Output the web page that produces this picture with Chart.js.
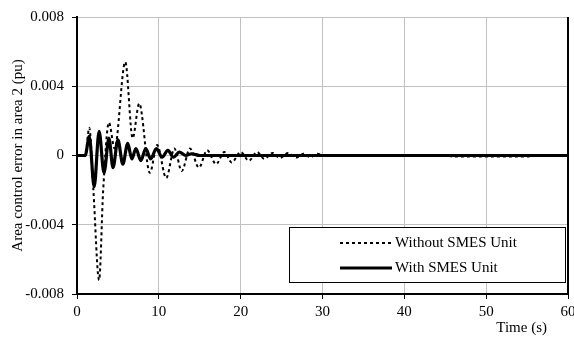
<!DOCTYPE html>
<html>
<head>
<meta charset="utf-8">
<script src="https://cdn.jsdelivr.net/npm/chart.js@4"></script>
<style>
html,body{margin:0;padding:0;background:#fff;}
#wrap{width:574px;height:337px;position:relative;}
</style>
</head>
<body>
<div id="wrap"><canvas id="c" width="574" height="337"></canvas></div>
<script>
// Time (s) and ACE (pu)
const tWithout = [0, 1.0, 1.5, 2.0, 2.7, 3.2, 3.9, 4.6, 5.9, 6.8, 7.6, 8.9, 9.8, 10.9, 11.9, 12.8, 13.8, 14.9, 15.9, 17.0, 18.0, 18.9, 20.0, 21.0, 22.0, 22.9, 23.9, 24.8, 25.8, 26.8, 27.7, 28.5, 29.4, 30.2, 45, 46, 55, 56, 60];
const vWithout = [0, 0, 0.0016, -0.002, -0.0072, -0.002, 0.0019, 0.0004, 0.0054, 0.001, 0.003, -0.001, 0.0006, -0.0013, 0.0004, -0.0009, 0.0004, -0.0007, 0.0003, -0.0005, 0.0002, -0.0004, 0.0002, -0.0003, 0.0002, -0.0002, 0.00015, -0.00015, 0.00015, -0.00012, 0.0001, -0.0001, 0.0001, 0, 0, -0.00006, -0.00006, 0, 0];
const tWith = [0, 1.0, 1.5, 2.1, 2.7, 3.3, 3.9, 4.4, 5.0, 5.6, 6.2, 6.7, 7.2, 7.8, 8.4, 9.0, 9.7, 10.4, 11.1, 11.8, 12.5, 13.3, 14.0, 15.0, 60];
const vWith = [0, 0, 0.0011, -0.0018, 0.0014, -0.001, 0.001, -0.0007, 0.0009, -0.0005, 0.0007, -0.0002, 0.0004, -0.0003, 0.0004, -0.0002, 0.0004, -0.0001, 0.0003, -0.0001, 0.0002, 0, 0.0001, 0, 0];
const seriesNames = ["Without SMES Unit", "With SMES Unit"];
const xTicks = [0, 10, 20, 30, 40, 50, 60];
const yTicks = [-0.008, -0.004, 0, 0.004, 0.008];
const yTickLabels = ["-0.008", "-0.004", "0", "0.004", "0.008"];
const xTitle = "Time (s)";
const yTitle = "Area control error in area 2 (pu)";

const FONT = "Liberation Serif";
const pts = (ts, vs) => ts.map((t, i) => ({x: t, y: vs[i]}));

const decor = {
  id: 'decor',
  afterDraw(chart) {
    const ctx = chart.ctx, a = chart.chartArea;
    ctx.save();
    // right border
    ctx.strokeStyle = '#000'; ctx.lineWidth = 2; ctx.setLineDash([]);
    ctx.beginPath(); ctx.moveTo(a.right, a.top); ctx.lineTo(a.right, a.bottom + 1); ctx.stroke();
    // legend box
    const bx = a.right - 279, by = a.bottom - 67, bw = 276, bh = 55;
    ctx.fillStyle = '#fff'; ctx.fillRect(bx, by, bw, bh);
    ctx.strokeStyle = '#000'; ctx.lineWidth = 1;
    ctx.strokeRect(bx + 0.5, by + 0.5, bw, bh);
    ctx.font = '15px "' + FONT + '"';
    ctx.textBaseline = 'middle'; ctx.textAlign = 'left'; ctx.fillStyle = '#000';
    const ds = chart.data.datasets;
    const rows = [ds[0], ds[1]];
    rows.forEach((d, i) => {
      const y = by + 16 + i * 25;
      ctx.strokeStyle = '#000';
      ctx.lineWidth = d.borderWidth;
      ctx.setLineDash(d.borderDash || []);
      ctx.beginPath(); ctx.moveTo(bx + 51, y); ctx.lineTo(bx + 103, y); ctx.stroke();
      ctx.setLineDash([]);
      ctx.fillText(d.label, bx + 106, y);
    });
    // x title
    ctx.textAlign = 'right';
    ctx.fillText(xTitle, a.right - 21, a.bottom + 34);
    ctx.restore();
  }
};

new Chart(document.getElementById('c'), {
  type: 'line',
  data: {
    datasets: [
      {label: seriesNames[0], data: pts(tWithout, vWithout), borderColor: '#000', borderWidth: 2, borderDash: [3, 3], pointRadius: 0, cubicInterpolationMode: 'monotone', fill: false, order: 1},
      {label: seriesNames[1], data: pts(tWith, vWith), borderColor: '#000', borderWidth: 3.2, pointRadius: 0, cubicInterpolationMode: 'monotone', fill: false, order: 0}
    ]
  },
  options: {
    responsive: false,
    animation: false,
    layout: {padding: {top: 16, right: 6, left: 0, bottom: 0}},
    plugins: {legend: {display: false}, tooltip: {enabled: false}},
    scales: {
      x: {
        type: 'linear', min: 0, max: 60,
        afterBuildTicks: s => { s.ticks = xTicks.map(v => ({value: v})); },
        afterFit: s => { s.height = 43; s.paddingLeft = 0; s.paddingRight = 0; },
        ticks: {color: '#000', font: {family: FONT, size: 15}, padding: 4, maxRotation: 0, callback: v => String(v)},
        grid: {color: '#c0c0c0', lineWidth: 1, tickColor: '#000', tickLength: 5},
        border: {color: '#000', width: 2}
      },
      y: {
        min: -0.008, max: 0.008,
        afterBuildTicks: s => { s.ticks = yTicks.map(v => ({value: v})); },
        afterFit: s => { s.width = 77; },
        ticks: {color: '#000', font: {family: FONT, size: 15}, padding: 8,
          callback: v => { const i = yTicks.findIndex(t => Math.abs(t - v) < 1e-9); return i >= 0 ? yTickLabels[i] : ''; }},
        grid: {color: '#c0c0c0', lineWidth: 1, tickColor: '#000', tickLength: 5},
        border: {color: '#000', width: 2},
        title: {display: true, text: yTitle, color: '#000', font: {family: FONT, size: 15}, padding: {top: 9, bottom: 0}}
      }
    }
  },
  plugins: [decor]
});
</script>
</body>
</html>
